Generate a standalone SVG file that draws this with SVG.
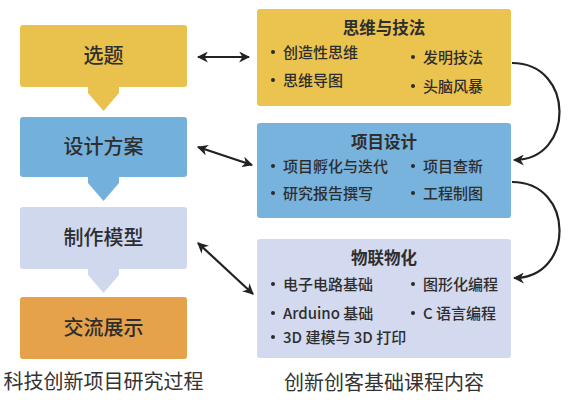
<svg xmlns="http://www.w3.org/2000/svg" width="575" height="400" viewBox="0 0 575 400">
<defs>
<style>
text{font-family:"Noto Sans CJK SC","Noto Sans",sans-serif;fill:#2e2e2e}
.step{font-size:20px;text-anchor:middle;font-weight:500}
.title{font-size:16.5px;font-weight:bold;text-anchor:middle}
.item{font-size:15px;font-weight:500}
.cap{font-size:20px;text-anchor:middle;fill:#333}
.conn{fill:none;stroke:#222;stroke-width:2.2}
.dot{fill:#2a2a2a}
</style>
<marker id="ah" viewBox="0 0 10 10" refX="9" refY="5" markerWidth="5" markerHeight="5" orient="auto-start-reverse" markerUnits="strokeWidth">
<path d="M0,0 L10,5 L0,10 L3,5 z" fill="#222"/>
</marker>
</defs>
<rect width="575" height="400" fill="#fff"/>

<g id="step1">
<rect x="20" y="25" width="167" height="62" rx="3" fill="#E9C14D"/>
<text class="step" x="103.5" y="63">选题</text>
<polygon points="88,87 119,87 119,93 103.5,111 88,93" fill="#E9C14D"/>
</g>
<g id="step2">
<rect x="20" y="117" width="167" height="60" rx="3" fill="#74B0DC"/>
<text class="step" x="103.5" y="154">设计方案</text>
<polygon points="88,177 119,177 119,183 103.5,201 88,183" fill="#74B0DC"/>
</g>
<g id="step3">
<rect x="20" y="207" width="167" height="62" rx="3" fill="#D0D8EE"/>
<text class="step" x="103.5" y="245">制作模型</text>
<polygon points="88,269 119,269 119,275 103.5,293 88,275" fill="#D0D8EE"/>
</g>
<g id="step4">
<rect x="20" y="297" width="167" height="62" rx="3" fill="#E5A24A"/>
<text class="step" x="103.5" y="335">交流展示</text>
</g>
<text class="cap" x="103.5" y="389">科技创新项目研究过程</text>

<g id="course1">
<rect x="257" y="9" width="254" height="97" rx="3" fill="#EBC34F"/>
<text class="title" x="384" y="34">思维与技法</text>
<circle class="dot" cx="273" cy="52" r="2"/>
<text class="item" x="283" y="58">创造性思维</text>
<circle class="dot" cx="273" cy="80" r="2"/>
<text class="item" x="283" y="86">思维导图</text>
<circle class="dot" cx="413" cy="57" r="2"/>
<text class="item" x="423" y="63">发明技法</text>
<circle class="dot" cx="413" cy="86" r="2"/>
<text class="item" x="423" y="92">头脑风暴</text>
</g>
<g id="course2">
<rect x="257" y="123" width="254" height="95" rx="3" fill="#78B3DD"/>
<text class="title" x="384" y="148">项目设计</text>
<circle class="dot" cx="273" cy="166" r="2"/>
<text class="item" x="283" y="172">项目孵化与迭代</text>
<circle class="dot" cx="273" cy="193" r="2"/>
<text class="item" x="283" y="199">研究报告撰写</text>
<circle class="dot" cx="413" cy="166" r="2"/>
<text class="item" x="423" y="172">项目查新</text>
<circle class="dot" cx="413" cy="193" r="2"/>
<text class="item" x="423" y="199">工程制图</text>
</g>
<g id="course3">
<rect x="257" y="239" width="254" height="119" rx="3" fill="#D3D9EE"/>
<text class="title" x="384" y="264">物联物化</text>
<circle class="dot" cx="273" cy="284" r="2"/>
<text class="item" x="283" y="290">电子电路基础</text>
<circle class="dot" cx="273" cy="313" r="2"/>
<text class="item" x="283" y="319">Arduino 基础</text>
<circle class="dot" cx="273" cy="337" r="2"/>
<text class="item" x="283" y="343">3D 建模与 3D 打印</text>
<circle class="dot" cx="413" cy="284" r="2"/>
<text class="item" x="423" y="290">图形化编程</text>
<circle class="dot" cx="413" cy="313" r="2"/>
<text class="item" x="423" y="319">C 语言编程</text>
</g>
<text class="cap" x="384" y="390">创新创客基础课程内容</text>

<g id="connectors">
<line class="conn" x1="198" y1="57" x2="249" y2="57" marker-start="url(#ah)" marker-end="url(#ah)"/>
<line class="conn" x1="198" y1="147" x2="252" y2="165" marker-start="url(#ah)" marker-end="url(#ah)"/>
<line class="conn" x1="198" y1="243" x2="253" y2="294" marker-start="url(#ah)" marker-end="url(#ah)"/>
<path class="conn" d="M512,63 C575,63 575,160 514,160" marker-end="url(#ah)"/>
<path class="conn" d="M512,182 C575,182 575,278 514,278" marker-end="url(#ah)"/>
</g>
</svg>
